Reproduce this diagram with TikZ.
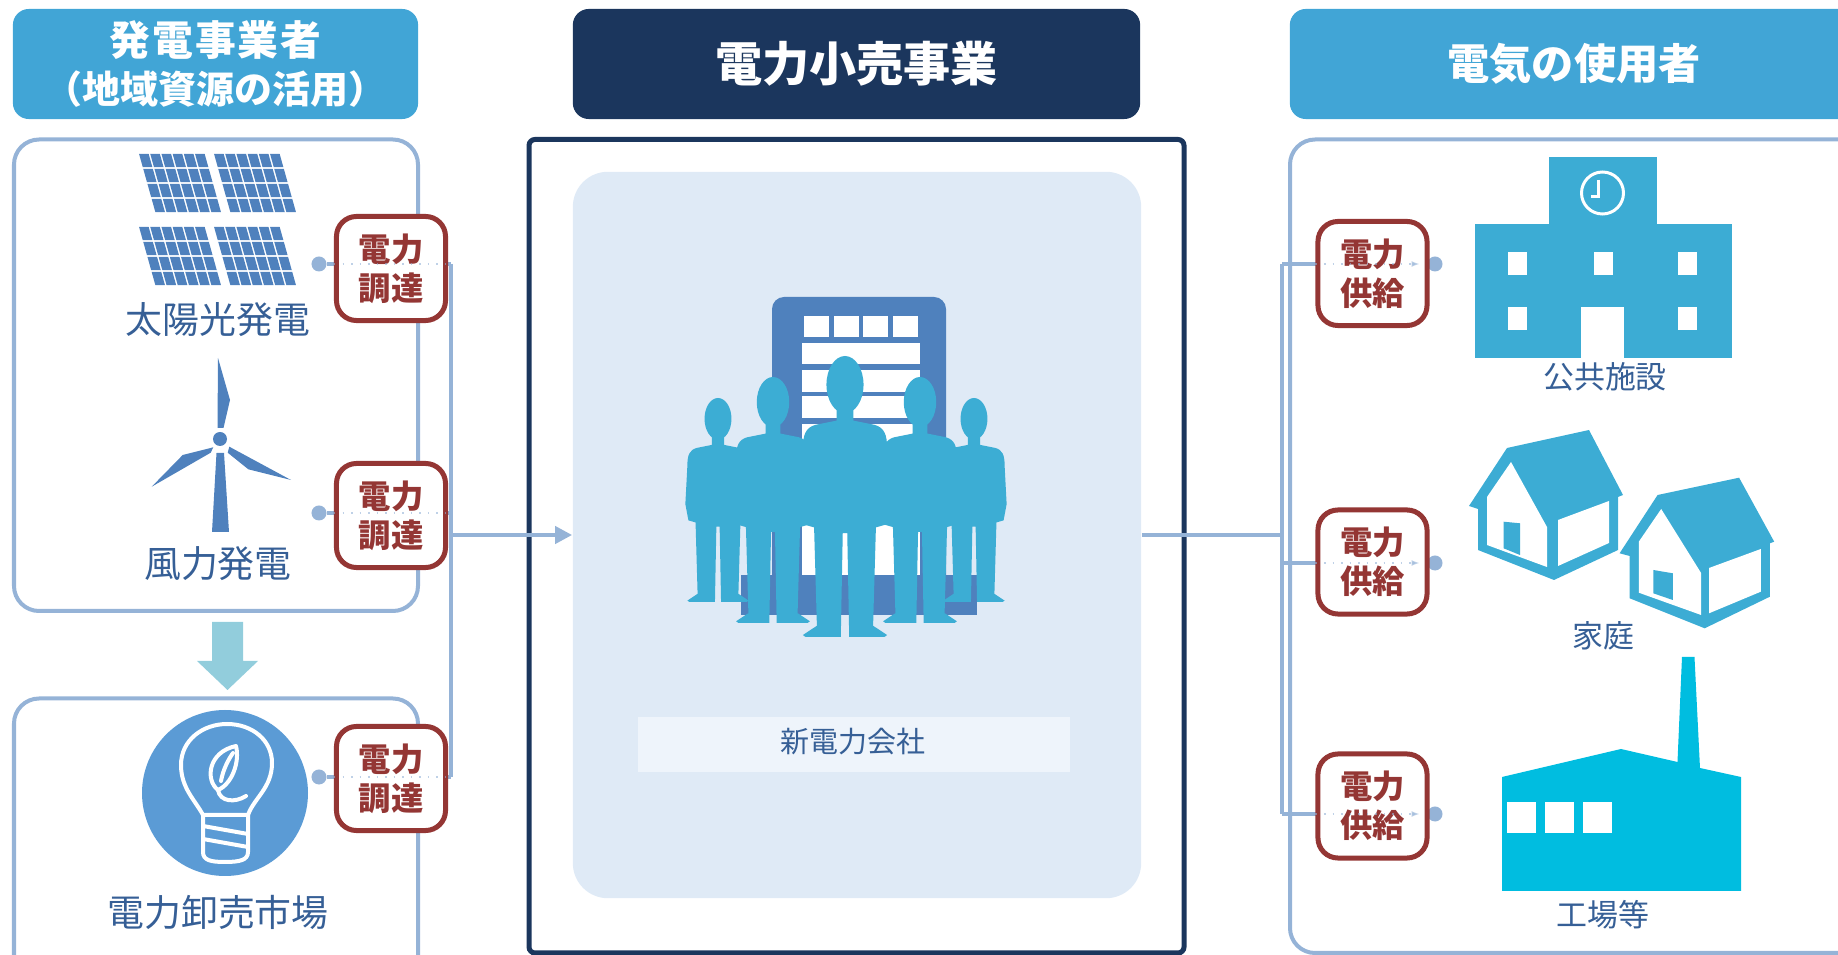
\documentclass[tikz,border=0pt]{standalone}
\usepackage{fontspec}
\setmainfont{Noto Sans CJK JP}
\usetikzlibrary{arrows.meta}

\definecolor{hdrblue}{HTML}{41A5D6}
\definecolor{navy}{HTML}{1B365D}
\definecolor{frameblue}{HTML}{95B3D7}
\definecolor{linkred}{HTML}{943634}
\definecolor{iconblue}{HTML}{4F81BD}
\definecolor{bulbblue}{HTML}{5B9BD5}
\definecolor{peopleblue}{HTML}{3CADD4}
\definecolor{bldgblue}{HTML}{3CACD4}
\definecolor{factorycyan}{HTML}{00BDE0}
\definecolor{labelblue}{HTML}{365F96}
\definecolor{paleblue}{HTML}{DFEAF6}
\definecolor{stripblue}{HTML}{EEF4FB}
\definecolor{arrowcyan}{HTML}{92CDDC}

\newcommand\trk{\kern0.6pt}

\tikzset{
  hdr/.style={fill=#1, rounded corners=0.16cm, minimum height=1.1cm, inner sep=0, text=white, align=center},
  frame/.style={draw=frameblue, line width=0.04cm, rounded corners=0.25cm},
  conn/.style={draw=frameblue, line width=0.04cm},
  dot/.style={circle, fill=frameblue, minimum size=0.15cm, inner sep=0},
  redbox/.style={draw=linkred, line width=0.05cm, fill=white, rounded corners=0.2cm,
    minimum width=1.09cm, minimum height=1.04cm, inner sep=0, align=center, text=linkred,
    font=\bfseries\fontsize{9.2}{11.2}\selectfont},
  trace/.style={draw=frameblue, line width=0.015cm, dotted, opacity=0.6},
  lbl/.style={text=labelblue, inner sep=0, font=\fontsize{10.5}{12}\selectfont},
  rlbl/.style={text=labelblue, inner sep=0, font=\fontsize{8.8}{10}\selectfont},
  pics/suitman/.style={code={
    \fill[peopleblue] (0,10.2) ellipse [x radius=6.6, y radius=10.2];
    \fill[peopleblue] (-3,18) -- (-3,23) -- (-10.5,24.5) .. controls (-14,25.5) and (-15,28) .. (-15,33)
      -- (-16,52) -- (-14.5,60) -- (-11,61) -- (-10,96) -- (-15,99.3) -- (-14,100) -- (-1.5,100)
      -- (-0.8,63) -- (0.8,63) -- (1.5,100) -- (14,100) -- (15,99.3) -- (10,96) -- (11,61)
      -- (14.5,60) -- (16,52) -- (15,33) .. controls (15,28) and (14,25.5) .. (10.5,24.5)
      -- (3,23) -- (3,18) -- cycle;
  }},
}

\begin{document}
\begin{tikzpicture}[x=0.01cm, y=-0.01cm]
\useasboundingbox (0,0) rectangle (1838,955);

% ---------- headers ----------
\node[hdr=hdrblue, minimum width=4.05cm, font=\bfseries\fontsize{10.8}{13.4}\selectfont] (hgen) at (215.5,64)
  {{\fontsize{11.6}{13.4}\selectfont 発\trk 電\trk 事\trk 業\trk 者}\\\kern-.5em（地域資源の活用）\kern-.5em};
\node[hdr=navy, minimum width=5.67cm, font=\bfseries\fontsize{13.4}{16}\selectfont] (hret) at (856.5,64) {電力小売事業};
\node[hdr=hdrblue, minimum width=5.68cm, font=\bfseries\fontsize{12}{14}\selectfont] (huse) at (1574,64) {電気の使用者};

% ---------- frames ----------
\draw[frame] (14,139.5) rectangle (418,611);
\draw[frame] (14,698.5) rectangle (418,1010);
\draw[frame] (1290,139.5) rectangle (1990,953);
\draw[draw=navy, line width=0.05cm, rounded corners=0.06cm] (529,139.5) rectangle (1184,953);

% ---------- retail company panel ----------
\node[fill=paleblue, rounded corners=0.35cm, minimum width=5.68cm, minimum height=7.26cm, inner sep=0] (core) at (857,535) {};
\node[fill=stripblue, minimum width=4.32cm, minimum height=0.55cm, inner sep=0] (strip) at (854,744.5) {};
\node[text=labelblue, inner sep=0, font=\fontsize{8.25}{10}\selectfont] (corelbl) at (853,742) {新電力会社};

% office building behind the staff
\fill[iconblue, rounded corners=0.12cm] (772,297) rectangle (946,615);
\fill[iconblue] (741,575) rectangle (977,615);
\foreach \wx in {804,834,863,893} \fill[white] (\wx,316) rectangle ++(25,21);
\fill[white] (802,343) rectangle (920,364);
\fill[white] (802,370) rectangle (920,392);
\fill[white] (802,396) rectangle (920,418);
\fill[white] (802,424) rectangle (920,575);

% staff silhouettes
\pic[scale=2.04] at (718,398) {suitman};
\pic[scale=2.04] at (974,398) {suitman};
\pic[scale=2.46] at (773,377) {suitman};
\pic[scale=2.46] at (920,377) {suitman};
\pic[scale=2.81] at (845,356) {suitman};

% ---------- solar panels ----------
\foreach \ox/\oy in {138/153, 213/153, 138/226, 213/226}{
  \begin{scope}[shift={(\ox,\oy)}, xslant=-0.28]
    \foreach \i in {0,...,5}
      \foreach \j in {0,...,3}
        \fill[iconblue] (\i*11.2+0.8, \j*15+0.8) rectangle ++(9.6,13.4);
  \end{scope}
}
\node[lbl] (solar) at (218,320) {太陽光発電};

% ---------- wind turbine ----------
\fill[iconblue] (212,532) -- (216.5,453) -- (224,453) -- (229,532) -- cycle;
\fill[iconblue] (220,439) circle [radius=7];
\fill[iconblue] (217.5,428) -- (218,358) -- (230,400) -- (223.5,428) -- cycle;
\fill[iconblue] (213.3,447.3) -- (182.7,455) -- (151.7,486.7) -- (210.7,452.7) -- cycle;
\fill[iconblue] (229.3,446.7) -- (291,480) -- (248.3,469.3) -- (227.7,452.7) -- cycle;
\node[lbl] (wind) at (218,564) {風力発電};

% ---------- market bulb ----------
\fill[bulbblue] (225,793) circle [radius=83];
\begin{scope}[draw=white, line width=0.04cm, line cap=round, line join=round]
  \draw (203,815) .. controls (195,800) and (181,788) .. (181,765)
        .. controls (181,740) and (203,724) .. (227,724)
        .. controls (252,724) and (272,740) .. (272,763)
        .. controls (272,788) and (254,798) .. (248,815);
  \draw (203,815) -- (203,852) .. controls (203,860) and (210,862) .. (225,862)
        .. controls (240,862) and (248,860) .. (248,852) -- (248,815) -- cycle;
  \draw (203,826) -- (248,834);
  \draw (203,839) -- (248,847);
  \draw (218,790) .. controls (205,780) and (208,752) .. (236,746)
        .. controls (240,762) and (232,784) .. (218,790);
  \draw (221,781) .. controls (223,770) and (228,760) .. (233,753);
  \draw (218,790) .. controls (220,802) and (235,803) .. (246,796);
\end{scope}
\node[lbl] (market) at (218,912) {電力卸売市場};

% down arrow from generators to market
\fill[arrowcyan] (212,622) -- (243,622) -- (243,661) -- (258,661) -- (227.5,690) -- (197,661) -- (212,661) -- cycle;

% ---------- school ----------
\fill[bldgblue] (1549,157) rectangle (1657,224);
\fill[bldgblue] (1475,224) rectangle (1732,358);
\draw[white, line width=0.03cm] (1602.5,193) circle [radius=21];
\draw[white, line width=0.03cm] (1598,180) -- (1598,197) -- (1591,197);
\foreach \wx in {1508,1593.5,1678} \fill[white] (\wx,252) rectangle ++(19,23);
\foreach \wx in {1508,1678} \fill[white] (\wx,307) rectangle ++(19,23);
\fill[white] (1581,307) rectangle (1624,358);
\node[rlbl] (school) at (1605,377) {公共施設};

% ---------- houses ----------
\fill[bldgblue] (1478,550) -- (1478,509) -- (1469,506) -- (1507,448) -- (1589,430) -- (1623,495)
  -- (1618,497) -- (1618,550) -- (1554,580) -- cycle;
\fill[white] (1511,462) -- (1487,497) -- (1487,545) -- (1547,567) -- (1547,527) -- cycle;
\fill[white] (1558,520) -- (1609,501) -- (1609,543) -- (1558,566) -- cycle;
\fill[bldgblue] (1503.6,521.7) -- (1520,523.3) -- (1520,555) -- (1503.6,548.3) -- cycle;

\fill[bldgblue] (1629.7,598.3) -- (1629.7,556) -- (1619.6,553.3) -- (1657.6,495) -- (1739.1,477.7)
  -- (1774.2,541.7) -- (1769.9,543.3) -- (1769.9,596.7) -- (1704.7,628.3) -- cycle;
\fill[white] (1661.2,509) -- (1638.8,541.7) -- (1638.8,592.7) -- (1701.1,615) -- (1701.1,573) -- cycle;
\fill[white] (1709,568) -- (1760.8,549) -- (1760.8,591.7) -- (1709,613.3) -- cycle;
\fill[bldgblue] (1653.3,570) -- (1672.8,573.3) -- (1672.8,600) -- (1653.3,593.3) -- cycle;
\node[rlbl] (home) at (1603,636) {家庭};

% ---------- factory ----------
\fill[factorycyan] (1502,891) -- (1502,777) -- (1621,749) -- (1677.5,762) -- (1682,657) -- (1694.5,657)
  -- (1700,768) -- (1741,777) -- (1741,891) -- cycle;
\foreach \wx in {1507,1545,1583} \fill[white] (\wx,802) rectangle ++(28.5,31);
\node[rlbl] (factory) at (1603,915) {工場等};

% ---------- connectors ----------
\node[dot] (dA) at (319,264) {};
\node[dot] (dB) at (319,513) {};
\node[dot] (dC) at (319,777) {};
\coordinate (busL) at (451,535);
\draw[conn] (dA) -- (dA -| busL);
\draw[conn] (dB) -- (dB -| busL);
\draw[conn] (dC) -- (dC -| busL);
\draw[conn] (dA -| busL) -- (dC -| busL);
\draw[conn, -{Triangle[length=0.17cm, width=0.17cm]}] (busL) -- (core.west);

\node[dot] (dD) at (1435,264) {};
\node[dot] (dE) at (1435,563) {};
\node[dot] (dF) at (1435,814) {};
\coordinate (busR) at (1282,535);
\draw[conn] (core.east) -- (busR);
\draw[conn] (busR |- dD) -- (busR |- dF);
\draw[conn] (busR |- dD) -- (dD);
\draw[conn] (busR |- dE) -- (dE);
\draw[conn] (busR |- dF) -- (dF);

% procurement / supply tags
\node[redbox] (rA) at (391,268.5) {電力\\調達};
\node[redbox] (rB) at (391,515.5) {電力\\調達};
\node[redbox] (rC) at (391,778.5) {電力\\調達};
\node[redbox] (rD) at (1372.5,273.5) {電力\\供給};
\node[redbox] (rE) at (1372.5,562) {電力\\供給};
\node[redbox] (rF) at (1372.5,806) {電力\\供給};

\draw[trace] (rA.west |- dA) -- (rA.east |- dA);
\draw[trace] (rB.west |- dB) -- (rB.east |- dB);
\draw[trace] (rC.west |- dC) -- (rC.east |- dC);
\draw[trace, -{Latex[length=0.08cm]}] (rD.west |- dD) -- ([xshift=-0.1cm]rD.east |- dD);
\draw[trace, -{Latex[length=0.08cm]}] (rE.west |- dE) -- ([xshift=-0.1cm]rE.east |- dE);
\draw[trace, -{Latex[length=0.08cm]}] (rF.west |- dF) -- ([xshift=-0.1cm]rF.east |- dF);
\end{tikzpicture}
\end{document}
